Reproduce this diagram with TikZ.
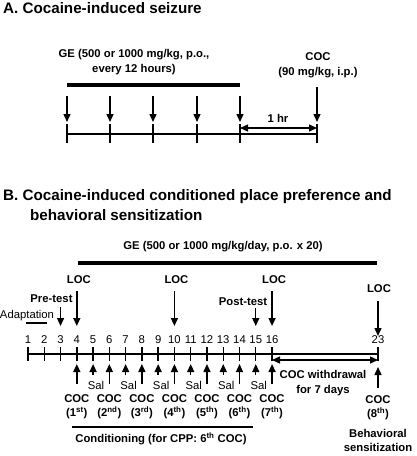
\documentclass[tikz,border=0pt]{standalone}
\usepackage{fontspec}
\setmainfont{Liberation Sans}
\usetikzlibrary{arrows.meta}
\begin{document}
\begin{tikzpicture}[x=1pt,y=-1pt,
  ln/.style={line width=1.4pt},
  bar/.style={line width=3.4pt},
  arr/.style={line width=1.4pt,-{Triangle[width=7pt,length=8pt]}},
  darr/.style={line width=1.4pt,{Triangle[width=7pt,length=8pt]}-{Triangle[width=7pt,length=8pt]}},
  lbl/.style={font=\fontsize{11.3}{15}\selectfont\bfseries, inner sep=0pt, align=center},
  num/.style={font=\fontsize{11.3}{13}\selectfont, inner sep=0pt},
  ttl/.style={font=\fontsize{15.2}{20}\selectfont\bfseries, inner sep=0pt, anchor=west},
]
\useasboundingbox (0,0) rectangle (417,456);

% ---------------- Panel A ----------------
\node[ttl] (tA) at (3,8) {A. Cocaine-induced seizure};
\node[lbl] (geA) at (134,62.5) {GE (500 or 1000 mg/kg, p.o.,\\every 12 hours)};
\node[lbl] (cocA) at (318,65) {COC\\(90 mg/kg, i.p.)};
\coordinate (barAl) at (67,85);
\coordinate (barAr) at (240,85);
\draw[bar] (barAl) -- (barAr);
\foreach \i/\x in {1/67,2/110,3/153,4/197,5/240,6/317} {
  \coordinate (a\i) at (\x,134);
  \coordinate (a\i u) at (\x,124);
  \coordinate (a\i d) at (\x,143);
  \draw[ln] (a\i u) -- (a\i d);
}
\draw[ln] (a1) -- (a6);
\foreach \i/\x in {1/67,2/110,3/153,4/197,5/240} {
  \coordinate (s\i) at (\x,96);
  \coordinate (e\i) at (\x,122);
  \draw[arr] (s\i) -- (e\i);
}
\coordinate (s6) at (317,87);
\coordinate (e6) at (317,122);
\draw[arr] (s6) -- (e6);
\coordinate (hrL) at (240,128);
\coordinate (hrR) at (317,128);
\draw[darr] (hrL) -- (hrR);
\node[lbl] (hr) at (278,118) {1 hr};

% ---------------- Panel B ----------------
\node[ttl,align=left] (tB) at (3,205) {B. Cocaine-induced conditioned place preference and\\\hspace*{27pt}behavioral sensitization};
\node[lbl] (geB) at (223,247) {GE (500 or 1000 mg/kg/day, p.o. x 20)};
\coordinate (barBl) at (78,263);
\coordinate (barBr) at (377,263);
\draw[bar] (barBl) -- (barBr);

\foreach \n in {1,...,16} {
  \pgfmathsetmacro\xx{28+(\n-1)*16.27}
  \coordinate (d\n) at (\xx,354);
}
\coordinate (d23) at (378,354);
\draw[ln] (d1) -- (d23);
\foreach \n in {1,...,16} {
  \draw[ln] ([yshift=7pt]d\n) -- ([yshift=-7pt]d\n);
  \node[num] (n\n) at ([yshift=14pt]d\n) {\n};
}
\draw[ln] ([yshift=7pt]d23) -- ([yshift=-7pt]d23);
\node[num] (n23) at ([yshift=14pt]d23) {23};

% level coordinates
\coordinate (yLOC) at (0,291);
\coordinate (yPre) at (0,307);
\coordinate (yPost) at (0,308);
\coordinate (yTip) at (0,326);
\coordinate (yL23) at (0,301);
\coordinate (yT23) at (0,336);
\coordinate (yUp) at (0,364);
\coordinate (yCOC) at (0,384);
\coordinate (ySal) at (0,375);

% down arrows
\foreach \n in {4,10,16} {
  \draw[arr] (d\n |- yLOC) -- (d\n |- yTip);
  \node[lbl] (loc\n) at ([xshift=2pt,yshift=74pt]d\n) {LOC};
}
\draw[arr] (d3 |- yPre) -- (d3 |- yTip);
\draw[arr] (d15 |- yPost) -- (d15 |- yTip);
\draw[arr] (d23 |- yL23) -- (d23 |- yT23);
\node[lbl] (loc23) at (379,289) {LOC};
\node[lbl] (pre) at (51.5,299) {Pre-test};
\node[lbl] (post) at (243,302) {Post-test};
\node[num] (adapt) at (27,316) {Adaptation};
\coordinate (adL) at (26,323);
\coordinate (adR) at (47,323);
\draw[ln] (adL) -- (adR);

% up arrows: COC
\foreach \n/\k in {4/1\textsuperscript{st},6/2\textsuperscript{nd},8/3\textsuperscript{rd},10/4\textsuperscript{th},12/5\textsuperscript{th},14/6\textsuperscript{th},16/7\textsuperscript{th}} {
  \draw[arr] (d\n |- yCOC) -- (d\n |- yUp);
  \node[lbl] (coc\n) at ([yshift=-52.5pt]d\n) {COC\\[-1.5pt](\k)};
}
% up arrows: Sal
\foreach \n in {5,7,9,11,13,15} {
  \draw[arr] (d\n |- ySal) -- (d\n |- yUp);
  \node[num] (sal\n) at ([xshift=3pt,yshift=-31pt]d\n) {Sal};
}
% day 23
\coordinate (u23s) at (378,388);
\coordinate (u23e) at (378,367);
\draw[arr] (u23s) -- (u23e);
\node[lbl] (coc23) at (378,408) {COC\\[-1pt](8\textsuperscript{th})};
\node[lbl] (beh) at (378,440) {Behavioral\\[-1pt]sensitization};

% withdrawal
\coordinate (wL) at (272,360);
\coordinate (wR) at (378,360);
\draw[darr] (wL) -- (wR);
\node[lbl] (wd) at (323,383.5) {COC withdrawal\\for 7 days};

% conditioning
\coordinate (cL) at (72,427);
\coordinate (cR) at (253,427);
\draw[ln] (cL) -- (cR);
\node[lbl] (cond) at (161,438.5) {Conditioning (for CPP: 6\textsuperscript{th} COC)};
\end{tikzpicture}
\end{document}
